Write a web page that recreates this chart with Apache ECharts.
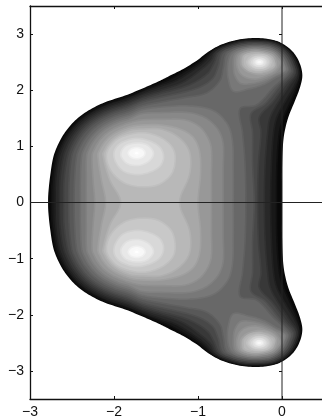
<!DOCTYPE html>
<html><head><meta charset="utf-8">
<style>html,body{margin:0;padding:0;background:#fff}#c{width:322px;height:419px}</style>
<script src="https://cdn.jsdelivr.net/npm/echarts@6/dist/echarts.min.js"></script>
</head><body><div id="c"></div>
<script>
const xTicks=[-3,-2,-1,0];
const yTicks=[-3,-2,-1,0,1,2,3];
const xRange=[-3,0.476];
const yRange=[-3.5,3.5];
const zeroH=[[-3,0],[0.476,0]];
const zeroV=[[0,-3.5],[0,3.5]];
// upper halves of contours: [re, im]; the lower half is its mirror
const whole0=[[-2.785,0],[-2.782,.16],[-2.762,.45],[-2.723,.806],[-2.663,1.044],[-2.583,1.25],[-2.464,1.459],[-2.306,1.637],[-2.107,1.785],[-1.869,1.904],[-1.631,2.05],[-1.452,2.17],[-1.333,2.26],[-1.175,2.38],[-1.016,2.527],[-.857,2.705],[-.702,2.824],[-.5,2.906],[-.301,2.93],[-.107,2.895],[.012,2.824],[.135,2.674],[.214,2.468],[.242,2.26],[.214,2.05],[.155,1.815],[.075,1.518],[.027,1.228],[.008,.95],[0,.6],[0,.25],[0,0]];
const whole16=[[-2.745,0],[-2.735,.4],[-2.693,.808],[-2.635,1.039],[-2.557,1.239],[-2.442,1.442],[-2.289,1.614],[-2.096,1.758],[-1.865,1.873],[-1.634,2.015],[-1.45,2.125],[-1.30,2.22],[-1.0,2.49],[-.837,2.698],[-.682,2.809],[-.489,2.886],[-.28,2.905],[-.115,2.875],[-.002,2.808],[.115,2.665],[.19,2.47],[.216,2.272],[.18,2.06],[.11,1.82],[.02,1.52],[-.03,1.25],[-.06,.7],[-.065,0]];
const whole32=[[-2.70,0],[-2.695,.4],[-2.653,.811],[-2.598,1.033],[-2.523,1.224],[-2.413,1.418],[-2.266,1.584],[-2.081,1.722],[-1.859,1.832],[-1.638,1.968],[-1.45,2.07],[-1.25,2.18],[-.98,2.44],[-.89,2.56],[-.813,2.69],[-.666,2.797],[-.481,2.872],[-.28,2.885],[-.12,2.862],[-.01,2.797],[.101,2.66],[.174,2.47],[.199,2.28],[.145,2.07],[.05,1.83],[-.06,1.52],[-.10,1.25],[-.125,.7],[-.135,0]];
const whole48=[[-2.65,0],[-2.645,.4],[-2.604,.815],[-2.551,1.024],[-2.481,1.206],[-2.376,1.39],[-2.237,1.546],[-2.062,1.676],[-1.852,1.781],[-1.643,1.91],[-1.45,2.0],[-1.18,2.14],[-.95,2.38],[-.85,2.52],[-.785,2.68],[-.646,2.782],[-.47,2.853],[-.28,2.865],[-.128,2.844],[-.025,2.782],[.082,2.651],[.15,2.472],[.175,2.291],[.09,2.09],[-.03,1.82],[-.14,1.52],[-.17,1.25],[-.2,.7],[-.21,0]];
const whole64=[[-2.60,0],[-2.595,.4],[-2.554,.819],[-2.504,1.016],[-2.438,1.187],[-2.339,1.361],[-2.208,1.508],[-2.043,1.631],[-1.845,1.73],[-1.648,1.851],[-1.45,1.94],[-1.11,2.09],[-.89,2.29],[-.81,2.48],[-.752,2.668],[-.626,2.767],[-.459,2.833],[-.28,2.845],[-.136,2.824],[-.039,2.766],[.062,2.643],[.127,2.474],[.15,2.303],[.04,2.1],[-.11,1.79],[-.27,1.52],[-.25,1.25],[-.28,.7],[-.29,0]];
const whole80=[[-2.54,0],[-2.535,.4],[-2.505,.822],[-2.458,1.008],[-2.395,1.169],[-2.303,1.332],[-2.179,1.47],[-2.024,1.586],[-1.838,1.679],[-1.653,1.793],[-1.45,1.87],[-1.02,2.03],[-.83,2.2],[-.76,2.42],[-.714,2.655],[-.602,2.749],[-.445,2.809],[-.28,2.82],[-.146,2.8],[-.056,2.746],[.038,2.632],[.098,2.476],[.119,2.318],[-.02,2.09],[-.2,1.76],[-.37,1.58],[-.35,1.25],[-.35,.7],[-.33,0]];
const whole96=[[-2.475,0],[-2.47,.4],[-2.445,.827],[-2.402,.998],[-2.344,1.146],[-2.258,1.297],[-2.145,1.425],[-2.001,1.532],[-1.83,1.617],[-1.659,1.722],[-1.44,1.79],[-1.15,1.87],[-.90,1.95],[-.74,2.17],[-.7,2.4],[-.667,2.639],[-.574,2.728],[-.431,2.784],[-.28,2.795],[-.156,2.776],[-.073,2.727],[.014,2.622],[.07,2.478],[.088,2.332],[-.1,2.05],[-.3,1.74],[-.5,1.67],[-.47,1.25],[-.44,.7],[-.43,0]];
const mid112=[[-2.4,0],[-2.4,.4],[-2.385,.831],[-2.346,.988],[-2.293,1.124],[-2.214,1.262],[-2.11,1.38],[-1.979,1.477],[-1.822,1.556],[-1.665,1.652],[-1.44,1.7],[-1.1,1.72],[-.82,1.64],[-.65,1.4],[-.59,1.1],[-.58,.6],[-.58,0]];
const mid128=[[-2.33,0],[-2.33,.4],[-2.326,.836],[-2.29,.978],[-2.242,1.102],[-2.17,1.227],[-2.076,1.334],[-1.956,1.423],[-1.813,1.494],[-1.671,1.582],[-1.44,1.6],[-1.1,1.6],[-.9,1.5],[-.76,1.3],[-.70,1.05],[-.70,.6],[-.70,0]];
const mid144=[[-2.23,0],[-2.25,.4],[-2.261,.84],[-2.229,.968],[-2.186,1.078],[-2.123,1.19],[-2.038,1.285],[-1.932,1.364],[-1.804,1.428],[-1.68,1.47],[-1.44,1.48],[-1.15,1.47],[-.98,1.35],[-.88,1.15],[-.84,.95],[-.84,.5],[-.84,0]];
const mid160=[[-2.1,0],[-2.15,.4],[-2.192,.846],[-2.164,.956],[-2.127,1.052],[-2.071,1.149],[-1.998,1.232],[-1.905,1.301],[-1.795,1.356],[-1.68,1.38],[-1.44,1.38],[-1.2,1.3],[-1.05,1.15],[-.98,.9],[-.97,.5],[-1.0,0]];
const mid176=[[-1.92,0],[-2.05,.4],[-2.132,.85],[-2.108,.946],[-2.075,1.03],[-2.027,1.114],[-1.963,1.187],[-1.883,1.247],[-1.786,1.295],[-1.65,1.31],[-1.42,1.3],[-1.22,1.15],[-1.1,.9],[-1.1,.5],[-1.22,0]];
// closed lobes in the upper half plane, mirrored into the lower half plane
const upper112=[[-.58,1.98],[-.40,2.02],[-.22,2.1],[-.08,2.22],[.059,2.346],[.04,2.48],[-.01,2.612],[-.089,2.708],[-.165,2.754],[-.28,2.77],[-.418,2.761],[-.55,2.71],[-.62,2.62],[-.65,2.42],[-.64,2.2]];
const upper128=[[-.49,2.12],[-.35,2.12],[-.2,2.18],[-.07,2.28],[.028,2.36],[.012,2.481],[-.034,2.601],[-.106,2.689],[-.28,2.745],[-.404,2.737],[-.518,2.686],[-.572,2.605],[-.58,2.42],[-.56,2.25]];
const upper144=[[-.42,2.22],[-.3,2.2],[-.17,2.26],[-.07,2.34],[-.016,2.483],[-.058,2.591],[-.122,2.67],[-.28,2.72],[-.39,2.713],[-.49,2.665],[-.53,2.6],[-.54,2.45],[-.5,2.3]];
const upper160=[[-.37,2.31],[-.27,2.28],[-.15,2.32],[-.07,2.42],[-.087,2.579],[-.142,2.646],[-.28,2.69],[-.374,2.684],[-.462,2.644],[-.49,2.59],[-.49,2.45],[-.44,2.36]];
const upper176=[[-.37,2.34],[-.27,2.32],[-.15,2.37],[-.09,2.44],[-.111,2.568],[-.159,2.627],[-.28,2.665],[-.36,2.66],[-.438,2.626],[-.46,2.58],[-.46,2.45],[-.42,2.38]];
const upper192=[[-.27,2.36],[-.17,2.40],[-.13,2.50],[-.17,2.60],[-.27,2.635],[-.37,2.60],[-.42,2.50],[-.37,2.40]];
const upper208=[[-.27,2.395],[-.195,2.425],[-.165,2.5],[-.195,2.575],[-.27,2.60],[-.345,2.575],[-.38,2.5],[-.345,2.425]];
const upper224=[[-.27,2.43],[-.22,2.45],[-.2,2.5],[-.22,2.55],[-.27,2.57],[-.32,2.55],[-.34,2.5],[-.32,2.45]];
const upper240=[[-.27,2.465],[-.245,2.475],[-.235,2.5],[-.245,2.525],[-.27,2.535],[-.295,2.525],[-.305,2.5],[-.295,2.475]];
const left192=[[-1.6,.28],[-1.85,.33],[-2.03,.55],[-2.09,.85],[-2.0,1.08],[-1.85,1.2],[-1.62,1.24],[-1.4,1.12],[-1.28,.9],[-1.3,.55],[-1.43,.35]];
const left208=[[-1.68,.5],[-1.88,.55],[-1.98,.72],[-2.0,.9],[-1.93,1.05],[-1.75,1.14],[-1.58,1.1],[-1.45,.98],[-1.41,.8],[-1.47,.62]];
const left224=[[-1.71,.66],[-1.85,.7],[-1.92,.85],[-1.87,1.0],[-1.73,1.06],[-1.6,1.02],[-1.53,.88],[-1.58,.74]];
const left240=[[-1.73,.78],[-1.8,.81],[-1.83,.88],[-1.8,.95],[-1.73,.98],[-1.66,.95],[-1.63,.88],[-1.66,.81]];
const left250=[[-1.73,.845],[-1.765,.88],[-1.73,.915],[-1.695,.88]];

const halves=[[0,whole0],[16,whole16],[32,whole32],[48,whole48],[64,whole64],[80,whole80],[96,whole96],
  [112,mid112],[128,mid128],[144,mid144],[160,mid160],[176,mid176]];
const lobes=[[112,upper112],[128,upper128],[144,upper144],[160,upper160],[176,upper176],[192,upper192],[208,upper208],[224,upper224],[240,upper240],
  [192,left192],[208,left208],[224,left224],[240,left240],[250,left250]];
const shapes=[];
halves.forEach(([g,h])=>{
  const low=h.slice(1,-1).reverse().map(([x,y])=>[x,-y]);
  shapes.push({g,pts:h.concat(low)});
});
lobes.forEach(([g,p])=>{
  shapes.push({g,pts:p});
  shapes.push({g,pts:p.map(([x,y])=>[x,-y])});
});
shapes.sort((a,b)=>a.g-b.g);

// rendering only: round a closed contour into a smooth pixel outline
function rounded(px){
  const n=px.length,out=[],d=(a,b)=>Math.hypot(a[0]-b[0],a[1]-b[1])||1e-6;
  const tan=px.map((p,i)=>{
    const a=px[(i-1+n)%n],b=px[(i+1)%n],s=d(p,a)+d(p,b);
    return [(b[0]-a[0])/s,(b[1]-a[1])/s];
  });
  for(let i=0;i<n;i++){
    const p=px[i],q=px[(i+1)%n],l=d(p,q)/3,t0=tan[i],t1=tan[(i+1)%n];
    const c1=[p[0]+t0[0]*l,p[1]+t0[1]*l],c2=[q[0]-t1[0]*l,q[1]-t1[1]*l];
    for(let k=0;k<8;k++){
      const t=k/8,u=1-t;
      out.push([u*u*u*p[0]+3*u*u*t*c1[0]+3*u*t*t*c2[0]+t*t*t*q[0],
                u*u*u*p[1]+3*u*u*t*c1[1]+3*u*t*t*c2[1]+t*t*t*q[1]]);
    }
  }
  return out;
}

const fmt=v=>String(v).replace('-','\u2212');
const txt={color:'#111',fontFamily:'"Liberation Sans",Arial,sans-serif',fontSize:14};
const xBase={type:'value',min:xRange[0],max:xRange[1],splitLine:{show:false},
  axisLine:{show:true,onZero:false,lineStyle:{color:'#111',width:1.3}},
  axisTick:{show:true,inside:true,length:3,customValues:xTicks,lineStyle:{color:'#111',width:1}}};
const yBase={type:'value',min:yRange[0],max:yRange[1],splitLine:{show:false},
  axisLine:{show:true,onZero:false,lineStyle:{color:'#111',width:1.3}},
  axisTick:{show:true,inside:true,length:3,customValues:yTicks,lineStyle:{color:'#111',width:1}}};
const chart=echarts.init(document.getElementById('c'),null,{renderer:'canvas'});
chart.setOption({
  animation:false,backgroundColor:'#fff',
  grid:{left:30,top:6,width:292,height:393,containLabel:false},
  xAxis:[
    Object.assign({},xBase,{position:'bottom',axisLabel:Object.assign({show:true,margin:6,customValues:xTicks,formatter:fmt},txt)}),
    Object.assign({},xBase,{position:'top',axisLabel:{show:false}})
  ],
  yAxis:[
    Object.assign({},yBase,{position:'left',axisLabel:Object.assign({show:true,margin:6,customValues:yTicks,formatter:fmt},txt)}),
    Object.assign({},yBase,{position:'right',axisLine:{show:false},axisLabel:{show:false}})
  ],
  series:[
    {type:'custom',coordinateSystem:'cartesian2d',silent:true,clip:true,
     data:shapes.map((s,i)=>[s.pts[0][0],s.pts[0][1],i]),
     encode:{x:0,y:1},
     renderItem:(p,api)=>{
       const s=shapes[p.dataIndex];
       const v=Math.min(255,s.g+8);
       const w=s.g===0?0:1.6;
       return {type:'polygon',shape:{points:rounded(s.pts.map(q=>api.coord(q)))},
         style:{fill:`rgb(${v},${v},${v})`,stroke:w?`rgb(${s.g},${s.g},${s.g})`:null,lineWidth:w}};
     }},
    {type:'line',data:zeroH,symbol:'none',silent:true,lineStyle:{color:'#222',width:1.1},z:5},
    {type:'line',data:zeroV,symbol:'none',silent:true,lineStyle:{color:'#222',width:1},z:5}
  ]
});
</script></body></html>
